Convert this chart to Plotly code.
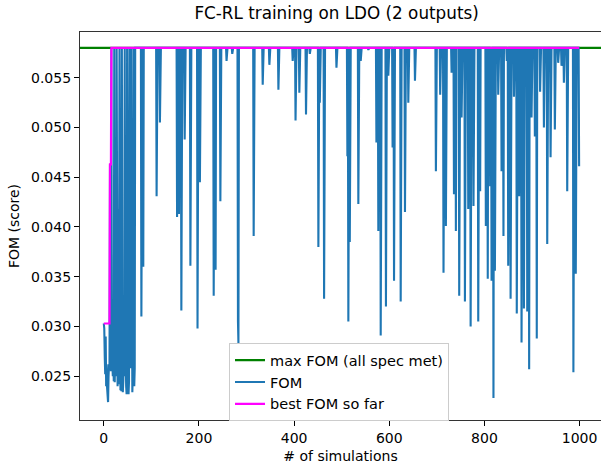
import numpy as np
import plotly.graph_objects as go

# ---------------- data ----------------
MAX_FOM = 0.058
N_SIMS = 1000

# first simulations (index 0..66)
early_fom = [
    0.0303, 0.0298, 0.0270, 0.0252, 0.0290, 0.0240, 0.0262, 0.0238, 0.0226, 0.0224,
    0.0250, 0.0262, 0.0258, 0.0463, 0.0262, 0.0255, 0.0580, 0.0256, 0.0262, 0.0250,
    0.0270, 0.0245, 0.0580, 0.0244, 0.0282, 0.0250, 0.0262, 0.0580, 0.0250, 0.0240,
    0.0418, 0.0242, 0.0255, 0.0580, 0.0351, 0.0236, 0.0248, 0.0235, 0.0580, 0.0260,
    0.0234, 0.0245, 0.0262, 0.0250, 0.0580, 0.0270, 0.0275, 0.0240, 0.0232, 0.0580,
    0.0250, 0.0240, 0.0232, 0.0245, 0.0580, 0.0298, 0.0310, 0.0258, 0.0580, 0.0370,
    0.0234, 0.0250, 0.0245, 0.0580, 0.0240, 0.0258, 0.0580,
]

# later simulations: index of each dip below the max FOM and its value
dip_sims = [
    79, 83, 111, 118, 154, 158, 163, 170, 182, 197, 202,
    231, 235, 245, 258, 270, 282, 283, 315, 334, 348, 367,
    397, 403, 411, 425, 433, 451, 454, 463, 489, 512, 514, 517,
    535, 540, 556, 573, 577, 582, 593, 598, 607, 610, 624, 633,
    640, 654, 698, 707, 714, 719, 731, 736, 740, 747, 752, 759,
    766, 771, 777, 787, 791, 803, 807, 812, 815, 819, 822, 829,
    836, 840, 847, 850, 855, 862, 868, 873, 878, 883, 890, 894,
    899, 906, 910, 917, 925, 932, 939, 948, 955, 962, 967, 974,
    987, 992, 999,
]
dip_vals = [
    0.0310, 0.0360, 0.0431, 0.0505, 0.0410, 0.0413, 0.0316, 0.0488, 0.0361, 0.0298, 0.0445,
    0.0331, 0.0357, 0.0426, 0.0567, 0.0574, 0.0305, 0.0283, 0.0391, 0.0543, 0.0563, 0.0538,
    0.0567, 0.0507, 0.0535, 0.0513, 0.0574, 0.0380, 0.0525, 0.0328, 0.0560, 0.0471, 0.0305, 0.0385,
    0.0423, 0.0567, 0.0578, 0.0485, 0.0396, 0.0291, 0.0320, 0.0552, 0.0480, 0.0346, 0.0325, 0.0415,
    0.0525, 0.0547, 0.0456, 0.0533, 0.0354, 0.0401, 0.0555, 0.0433, 0.0396, 0.0331, 0.0510, 0.0325,
    0.0418, 0.0300, 0.0421, 0.0305, 0.0436, 0.0401, 0.0348, 0.0441, 0.0346, 0.0228, 0.0356, 0.0533,
    0.0456, 0.0391, 0.0567, 0.0361, 0.0328, 0.0531, 0.0313, 0.0431, 0.0284, 0.0318, 0.0315, 0.0257,
    0.0510, 0.0491, 0.0288, 0.0536, 0.0500, 0.0383, 0.0470, 0.0498, 0.0565, 0.0562, 0.0545, 0.0436,
    0.0254, 0.0353, 0.0461,
]

x_ticks = [0, 200, 400, 600, 800, 1000]
y_ticks = [0.025, 0.030, 0.035, 0.040, 0.045, 0.050, 0.055]

# ------------- build series -------------
sims = np.arange(N_SIMS)
fom = np.full(N_SIMS, MAX_FOM)
fom[:len(early_fom)] = early_fom
fom[dip_sims] = dip_vals
best_so_far = np.maximum.accumulate(fom)

X_RANGE = [-50, 1045]
Y_RANGE = [0.0206, 0.0596]

fig = go.Figure()
fig.add_trace(go.Scatter(x=X_RANGE, y=[MAX_FOM, MAX_FOM], mode="lines",
                         line=dict(color="#008000", width=2.2),
                         name="max FOM (all spec met)"))
fig.add_trace(go.Scatter(x=sims, y=fom, mode="lines",
                         line=dict(color="#1f77b4", width=2.1), name="FOM"))
fig.add_trace(go.Scatter(x=sims, y=best_so_far, mode="lines",
                         line=dict(color="#ff00ff", width=2.2), name="best FOM so far"))

font_family = "DejaVu Sans, Verdana, sans-serif"
fig.update_layout(
    width=601, height=470,
    margin=dict(l=80, r=0, t=32, b=50),
    paper_bgcolor="white", plot_bgcolor="white",
    font=dict(family=font_family, size=14, color="#000000"),
    title=dict(text="FC-RL training on LDO (2 outputs)", x=0.4925, xref="paper",
               xanchor="center", y=0.972, yref="container", yanchor="middle",
               font=dict(size=16.8, family=font_family, color="#000000")),
    showlegend=True,
    legend=dict(x=0.286, y=0.198, xanchor="left", yanchor="top",
                bgcolor="rgba(255,255,255,0.85)", bordercolor="#cccccc", borderwidth=1,
                font=dict(size=14.5, family=font_family), tracegroupgap=0),
    xaxis=dict(range=X_RANGE, tickvals=x_ticks, ticks="outside", ticklen=5,
               tickcolor="#000", showgrid=False, zeroline=False, showline=True,
               linecolor="#333", linewidth=1.2, mirror=True,
               title=dict(text="# of simulations", standoff=6, font=dict(size=14))),
    yaxis=dict(range=Y_RANGE, tickvals=y_ticks, tickformat=".3f", ticks="outside",
               ticklen=5, tickcolor="#000", showgrid=False, zeroline=False,
               showline=True, linecolor="#333", linewidth=1.2, mirror=False,
               title=dict(text="FOM (score)", standoff=8, font=dict(size=14))),
)

fig.write_html("out.html")
